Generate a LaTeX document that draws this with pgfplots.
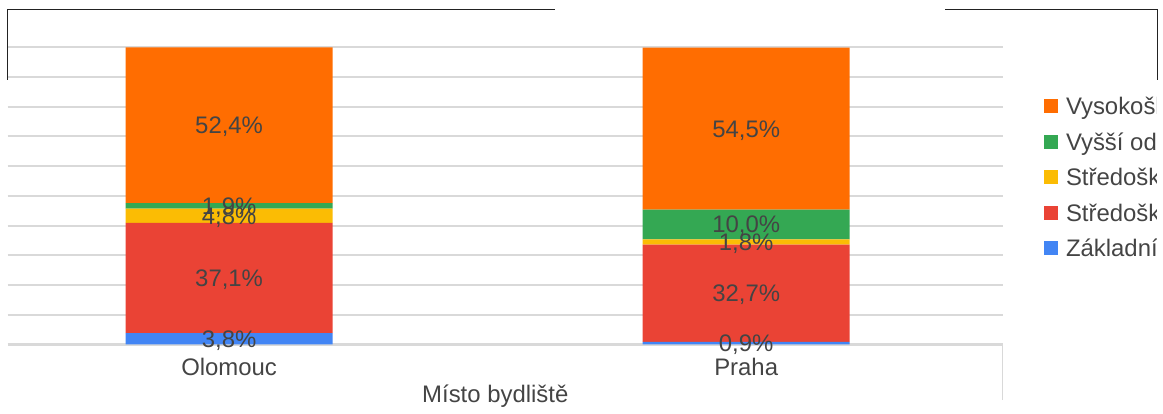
\documentclass[border=0pt]{standalone}
\usepackage{pgfplots}
\pgfplotsset{compat=1.18}
\usepackage{fontspec}
\setmainfont{Liberation Sans}
\definecolor{cOr}{HTML}{FF6D01}
\definecolor{cGr}{HTML}{34A853}
\definecolor{cYe}{HTML}{FBBC04}
\definecolor{cRe}{HTML}{EA4335}
\definecolor{cBl}{HTML}{4285F4}
\definecolor{txt}{HTML}{444444}
\definecolor{gridc}{HTML}{D9D9D9}
\definecolor{frame}{HTML}{222222}
\newcommand{\bigf}{\fontsize{24}{28}\selectfont}
\begin{document}
\begin{tikzpicture}
\path[use as bounding box] (0,0) rectangle (1163bp,414bp);
\begin{scope}
\clip (0,0) rectangle (1156bp,414bp);
\pgfplotsset{base/.style={
  at={(7.5bp,69.5bp)}, anchor=south west, scale only axis,
  width=995.5bp, height=297.2bp,
  xmin=-0.4286, xmax=1.4967, ymin=0, ymax=100}}
\begin{axis}[base, ybar stacked, bar width=207bp,
  axis line style={draw=none},
  ymajorgrids, ytick={0,10,...,100}, yticklabels={},
  grid style={draw=gridc, line width=2bp},
  xtick={0,1}, xticklabels={Olomouc,Praha}, major tick length=0pt,
  ticklabel style={font=\bigf, text=txt},
  xticklabel style={anchor=base, yshift=-31bp},
  xlabel={Místo bydliště},
  xlabel style={font=\bigf, text=txt, at={(axis description cs:0.49,0)}, anchor=base, yshift=-58bp},
  reverse legend,
  legend style={at={(axis description cs:1.0412,0.8294)}, anchor=north west,
    draw=none, fill=none, inner sep=0pt, outer sep=0pt,
    font=\bigf, text=txt, row sep=18.4bp, column sep=8bp,
    nodes={inner sep=0pt, outer sep=0pt, text height=17bp, text depth=0pt}},
  legend cell align=left,
  legend image code/.code={\fill[#1] (0bp,-7bp) rectangle (14bp,7bp);},
]
\addplot[fill=cBl, draw=none] coordinates {(0,3.8) (1,0.9)};
\addplot[fill=cRe, draw=none] coordinates {(0,37.1) (1,32.7)};
\addplot[fill=cYe, draw=none] coordinates {(0,4.8) (1,1.8)};
\addplot[fill=cGr, draw=none] coordinates {(0,1.9) (1,10.0)};
\addplot[fill=cOr, draw=none] coordinates {(0,52.4) (1,54.5)};
\legend{Základní,Středoškolské bez maturity,Středoškolské s maturitou,Vyšší odborné,Vysokoškolské}
\end{axis}
\begin{axis}[base, hide axis]
\addplot[draw=none, mark=none, point meta=explicit,
  nodes near coords={\pgfmathprintnumber[fixed,fixed zerofill,precision=1,use comma,assume math mode=true]{\pgfplotspointmeta}\%},
  nodes near coords align={center},
  every node near coord/.append style={anchor=center, font=\bigf, text=txt, inner sep=0pt, text height=17bp, text depth=0pt}]
  table[meta=v] {
x y v
0 1.9 3.8
0 22.35 37.1
0 43.3 4.8
0 46.65 1.9
0 73.8 52.4
1 0.45 0.9
1 17.25 32.7
1 34.5 1.8
1 40.4 10.0
1 72.65 54.5
};
\end{axis}
\end{scope}
\draw[frame, line width=1bp] (7.3bp,334bp) -- (7.3bp,404.7bp) -- (555bp,404.7bp);
\draw[frame, line width=1bp] (945bp,404.7bp) -- (1157bp,404.7bp) -- (1157bp,334bp);
\draw[gridc, line width=1.5bp] (1002.5bp,69.5bp) -- (1002.5bp,14bp);
\end{tikzpicture}
\end{document}
